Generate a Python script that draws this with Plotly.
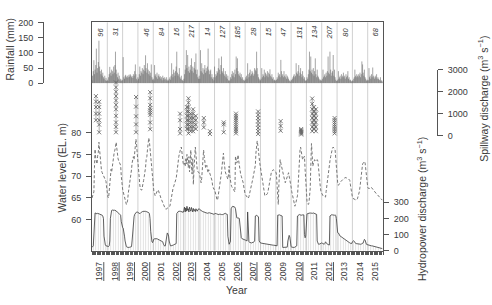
import plotly.graph_objects as go
import pandas as pd

W, H = 492, 305
FONT = "Liberation Sans, Arial, sans-serif"
TXT = "#3a3a3a"
AX = "#555555"

years = list(range(1997, 2016))
# year labels drawn underlined in the original
underlined_years = [1997, 1998, 1999, 2000, 2002, 2003, 2006, 2007, 2010, 2012]

# half-monthly values (1st and 15th of each month), one row per year
rainfall_mm = [
    10, 25, 40, 76, 30, 45, 60, 114, 35, 50, 70, 140, 55, 40, 30, 45, 25, 35, 20, 15, 25, 10, 18, 8,
    12, 8, 20, 30, 54, 35, 25, 45, 40, 30, 55, 35, 60, 104, 45, 30, 20, 35, 15, 25, 10, 15, 8, 12,
    10, 86, 20, 15, 25, 28, 22, 18, 25, 20, 28, 22, 30, 26, 20, 24, 18, 30, 25, 40, 62, 30, 15, 10,
    20, 15, 30, 55, 25, 40, 35, 50, 30, 45, 60, 40, 92, 50, 35, 66, 45, 30, 40, 25, 35, 62, 20, 12,
    15, 10, 60, 25, 30, 20, 35, 15, 25, 30, 20, 24, 15, 20, 10, 25, 18, 12, 20, 15, 10, 20, 12, 8,
    10, 15, 20, 12, 25, 66, 30, 20, 45, 35, 25, 40, 55, 104, 35, 25, 30, 50, 20, 15, 25, 12, 10, 8,
    15, 30, 45, 60, 109, 50, 93, 40, 55, 35, 45, 60, 82, 40, 55, 35, 50, 70, 45, 98, 30, 45, 20, 15,
    25, 15, 109, 40, 66, 35, 50, 30, 45, 60, 35, 50, 40, 55, 114, 45, 30, 40, 45, 20, 30, 15, 20, 10,
    55, 20, 30, 25, 40, 35, 50, 82, 45, 30, 60, 88, 40, 35, 50, 30, 25, 40, 20, 30, 15, 25, 10, 8,
    10, 20, 15, 30, 40, 25, 35, 20, 45, 30, 88, 50, 82, 40, 30, 25, 35, 20, 30, 15, 20, 10, 12, 8,
    12, 20, 25, 15, 66, 30, 20, 35, 45, 25, 30, 40, 35, 25, 30, 50, 45, 40, 104, 50, 30, 20, 15, 10,
    10, 15, 50, 20, 30, 25, 45, 20, 35, 30, 25, 40, 20, 35, 30, 46, 25, 20, 30, 15, 20, 10, 12, 8,
    10, 12, 20, 15, 35, 25, 30, 20, 77, 40, 25, 30, 20, 40, 25, 20, 30, 15, 25, 20, 15, 10, 8, 6,
    12, 10, 15, 20, 25, 30, 20, 25, 66, 35, 30, 40, 60, 25, 35, 50, 30, 20, 40, 25, 15, 20, 10, 8,
    10, 20, 15, 30, 45, 104, 40, 88, 35, 45, 30, 50, 25, 40, 82, 30, 20, 45, 25, 20, 15, 10, 12, 8,
    10, 15, 45, 20, 25, 30, 20, 35, 25, 40, 88, 35, 30, 104, 45, 25, 35, 40, 93, 25, 45, 20, 12, 8,
    8, 12, 40, 15, 20, 25, 15, 30, 20, 25, 35, 20, 25, 15, 30, 20, 25, 40, 15, 20, 10, 12, 8, 6,
    10, 8, 15, 20, 45, 25, 20, 30, 25, 20, 30, 25, 35, 20, 30, 72, 62, 35, 25, 45, 20, 15, 10, 8,
    12, 10, 50, 20, 25, 15, 30, 20, 52, 25, 20, 15, 25, 20, 30, 15, 20, 15, 10, 12, 20, 8, 10, 6,
]

water_level_m = [
    65.0, 65.5, 66.0, 66.4, 72.0, 76.2, 74.0, 73.5, 72.8, 74.6, 75.5, 77.8, 76.0, 73.0, 72.0, 71.3, 70.8, 70.5, 70.2, 70.0, 69.7, 69.3, 68.8, 67.5,
    66.0, 65.2, 65.0, 66.5, 69.0, 71.0, 71.6, 71.0, 72.5, 73.5, 74.5, 75.5, 76.0, 77.0, 77.8, 76.5, 74.6, 74.0, 73.5, 73.0, 73.0, 72.5, 70.0, 68.0,
    67.0, 66.4, 65.8, 65.3, 64.9, 64.2, 63.5, 63.8, 64.5, 66.0, 67.0, 68.0, 69.3, 70.5, 71.5, 73.0, 74.0, 74.5, 73.8, 75.5, 77.0, 78.5, 77.0, 75.0,
    73.0, 71.0, 69.0, 68.0, 67.0, 66.8, 66.8, 67.5, 68.0, 69.0, 70.0, 70.8, 72.0, 73.8, 74.5, 76.0, 77.5, 78.8, 78.0, 76.5, 74.5, 73.0, 70.5, 68.5,
    67.5, 66.5, 66.0, 65.5, 65.8, 66.2, 66.6, 66.8, 66.8, 66.5, 66.0, 65.5, 65.0, 64.6, 64.2, 63.9, 63.5, 63.1, 62.8, 62.5, 62.4, 62.5, 62.7, 62.8,
    62.8, 62.9, 63.1, 63.8, 64.9, 65.6, 66.3, 67.1, 67.6, 68.0, 68.4, 68.6, 69.5, 70.5, 71.5, 73.0, 74.5, 75.3, 75.8, 76.3, 76.7, 75.0, 73.5, 73.0,
    72.5, 73.0, 72.3, 74.0, 72.8, 75.0, 73.5, 72.0, 74.5, 71.0, 73.5, 76.0, 72.5, 70.5, 74.0, 68.1, 72.0, 74.5, 76.7, 75.0, 72.0, 71.5, 71.0, 70.8,
    70.8, 70.2, 69.5, 68.5, 69.5, 71.5, 74.0, 76.0, 74.5, 73.0, 72.0, 71.9, 72.5, 71.5, 70.8, 71.5, 71.0, 70.5, 70.2, 70.0, 69.0, 67.9, 67.3, 67.0,
    67.0, 66.2, 65.3, 64.9, 64.6, 64.5, 65.5, 66.5, 67.1, 68.5, 69.8, 70.8, 72.5, 74.0, 75.3, 73.5, 71.5, 71.0, 70.5, 70.0, 69.6, 69.3, 70.5, 72.3,
    70.0, 68.6, 68.0, 67.6, 67.3, 67.1, 66.8, 66.5, 66.4, 74.6, 74.0, 73.0, 73.5, 74.9, 73.5, 72.0, 70.8, 70.5, 70.0, 69.6, 69.3, 68.5, 67.5, 66.0,
    65.8, 65.6, 65.5, 65.2, 65.0, 64.9, 65.3, 65.8, 66.4, 67.0, 67.8, 68.6, 69.3, 70.0, 70.5, 70.8, 72.5, 75.3, 77.0, 78.1, 77.0, 75.3, 74.0, 73.0,
    72.0, 71.0, 70.0, 69.0, 67.9, 67.0, 66.2, 65.5, 65.5, 65.7, 65.8, 66.0, 66.6, 67.2, 67.9, 69.0, 70.0, 70.8, 71.0, 71.3, 71.5, 71.4, 71.3, 71.2,
    71.0, 70.5, 67.0, 64.2, 63.5, 68.0, 73.0, 73.8, 73.0, 72.3, 71.5, 70.5, 70.0, 69.3, 69.0, 68.5, 69.0, 69.5, 70.0, 70.5, 70.8, 70.0, 69.3, 68.5,
    67.5, 66.5, 65.6, 64.9, 64.2, 63.6, 63.1, 63.5, 64.3, 65.0, 65.5, 67.5, 71.5, 75.3, 76.0, 76.7, 75.5, 74.3, 73.8, 74.0, 74.3, 74.6, 71.5, 68.5,
    66.0, 64.2, 63.8, 63.5, 63.8, 65.0, 67.1, 72.0, 77.5, 75.5, 72.3, 72.8, 73.3, 73.8, 73.6, 73.4, 73.6, 73.8, 73.5, 71.5, 69.3, 68.3, 67.3, 66.4,
    66.0, 65.7, 65.5, 65.4, 65.3, 65.2, 65.2, 66.5, 68.0, 69.2, 70.0, 71.0, 72.5, 73.5, 74.5, 75.3, 76.0, 76.5, 76.7, 76.5, 76.2, 76.0, 74.0, 71.5,
    69.5, 68.5, 67.9, 68.0, 68.3, 68.6, 68.8, 68.9, 69.0, 69.2, 69.4, 69.5, 69.6, 69.7, 69.7, 69.6, 69.6, 69.5, 69.4, 69.2, 69.0, 68.0, 66.5, 65.5,
    65.2, 64.9, 64.8, 64.7, 64.6, 64.5, 64.5, 64.6, 64.8, 65.3, 65.8, 66.4, 67.5, 69.0, 70.8, 72.3, 72.8, 73.0, 73.3, 73.4, 73.0, 71.5, 70.0, 68.5,
    67.5, 67.2, 67.1, 67.2, 67.4, 67.5, 67.4, 67.2, 67.0, 66.8, 66.6, 66.4, 66.2, 66.0, 65.9, 65.8, 65.6, 65.5, 65.3, 65.2, 65.0, 64.9, 64.7, 64.5,
]

hydropower_m3s = [
    25, 24, 30, 120, 232, 234, 232, 230, 228, 232, 230, 228, 226, 228, 225, 224, 220, 215, 200, 90, 45, 35, 30, 28,
    26, 25, 26, 30, 60, 200, 248, 250, 252, 250, 248, 250, 252, 250, 246, 244, 240, 236, 232, 228, 225, 220, 180, 150,
    144, 140, 120, 90, 60, 30, 25, 22, 20, 20, 20, 21, 22, 24, 25, 60, 120, 190, 210, 225, 232, 236, 240, 240,
    238, 236, 232, 230, 234, 238, 240, 242, 244, 245, 246, 245, 244, 243, 242, 240, 238, 236, 230, 200, 120, 70, 55, 50,
    70, 72, 74, 75, 76, 75, 74, 72, 70, 70, 68, 66, 65, 62, 60, 55, 40, 30, 28, 30, 60, 100, 110, 105,
    90, 60, 35, 30, 30, 30, 32, 34, 36, 38, 40, 42, 44, 230, 240, 242, 244, 246, 245, 244, 243, 242, 240, 238,
    250, 270, 240, 265, 245, 275, 250, 260, 240, 270, 255, 245, 268, 250, 240, 262, 248, 255, 242, 260, 250, 245, 255, 258,
    260, 255, 250, 248, 246, 244, 242, 240, 238, 236, 234, 232, 230, 232, 234, 236, 235, 234, 232, 230, 228, 226, 225, 226,
    228, 230, 232, 228, 226, 224, 222, 224, 226, 228, 226, 224, 222, 224, 226, 228, 230, 232, 228, 226, 225, 90, 45, 40,
    50, 55, 260, 270, 274, 275, 274, 272, 270, 260, 205, 204, 203, 200, 202, 200, 150, 95, 80, 75, 72, 70, 70, 68,
    66, 65, 62, 60, 240, 60, 55, 52, 50, 50, 48, 50, 50, 52, 55, 60, 215, 218, 220, 215, 212, 210, 60, 50,
    48, 47, 46, 45, 44, 44, 43, 42, 42, 41, 40, 40, 39, 38, 38, 37, 36, 36, 35, 35, 34, 34, 33, 32,
    32, 31, 30, 220, 222, 224, 222, 220, 218, 216, 215, 20, 20, 20, 19, 19, 20, 20, 22, 60, 90, 95, 85, 40,
    25, 22, 20, 20, 20, 20, 22, 24, 26, 30, 215, 220, 222, 224, 222, 220, 218, 220, 222, 224, 222, 100, 80, 90,
    200, 228, 230, 232, 234, 235, 234, 233, 232, 230, 232, 234, 233, 232, 230, 228, 225, 60, 45, 40, 40, 42, 45, 50,
    48, 46, 44, 42, 40, 45, 55, 50, 42, 40, 38, 36, 35, 215, 220, 222, 224, 222, 220, 218, 220, 222, 218, 200,
    115, 112, 110, 100, 95, 90, 88, 85, 82, 80, 78, 75, 72, 70, 66, 62, 58, 55, 52, 50, 48, 46, 45, 44,
    55, 60, 62, 58, 50, 46, 44, 43, 42, 42, 41, 40, 40, 40, 41, 42, 44, 48, 60, 70, 65, 50, 40, 38,
    36, 35, 34, 33, 32, 31, 30, 30, 29, 28, 28, 27, 26, 26, 25, 24, 23, 22, 20, 18, 16, 15, 14, 13,
]

# spillway release events: date and the discharges recorded on it
spill_dates = ["1997-04-05", "1997-06-21", "1998-07-27", "1999-11-17", "2000-10-19",
               "2002-10-02", "2003-03-14", "2003-04-20", "2003-06-14", "2003-08-08",
               "2003-10-12", "2004-04-20", "2004-09-13", "2005-08-08", "2006-05-27",
               "2007-11-06", "2009-04-27", "2010-08-29", "2011-05-19", "2011-07-02",
               "2011-08-15", "2012-11-03"]
spill_values = [
    [1800, 1550, 1300, 1000, 700],
    [1540, 1300, 1000, 700, 500, 150],
    [2420, 2200, 2000, 1800, 1600, 1400, 1200, 900, 600, 400, 150],
    [1760, 1320, 880, 510, 150],
    [1980, 1700, 1400, 1250, 1150, 1050, 950, 600, 290],
    [1000, 700, 300, 100],
    [1300, 1100, 900, 700, 500, 300],
    [1700, 1500, 1300, 1100, 900, 700, 500, 300, 100],
    [1000, 800, 600, 400, 200],
    [1200, 1000, 800, 600, 400, 200],
    [900, 700, 500, 300],
    [800, 600, 370],
    [200, 70],
    [600, 510, 150],
    [1000, 900, 800, 700, 600, 500, 400, 300, 200, 100],
    [1100, 950, 800, 650, 500, 350, 200, 70],
    [660, 440, 220],
    [300, 250, 200, 150, 100, 50],
    [1690, 1450, 1200, 1000, 800, 600, 400, 200],
    [1300, 1100, 900, 700, 500, 300],
    [1200, 1000, 800, 600, 400, 200],
    [800, 700, 600, 500, 400, 300, 200, 100],
]

# numbers printed at the top of each year column
note_years = [1997, 1998, 2000, 2001, 2002, 2003, 2004, 2005, 2006, 2007, 2008,
              2009, 2010, 2011, 2012, 2013, 2015]
note_values = [96, 31, 46, 84, 16, 217, 14, 127, 185, 28, 15, 47, 131, 134, 207, 80, 68]

dates = pd.date_range("1997-01-01", "2015-12-31", freq="SMS")
for name, arr in [("rain", rainfall_mm), ("wl", water_level_m), ("hydro", hydropower_m3s)]:
    if len(arr) != len(dates):
        raise ValueError(f"{name} has {len(arr)} values, expected {len(dates)}")

# ---- pixel layout helpers ----
def px_x(p):
    return p / W

def px_y(p):
    return 1 - p / H

X0, X1 = 92, 383         # plot box left/right
Y_TOP, Y_BOT = 18, 254   # plot box top/bottom
RAIN_BASE = 81

wl_per_px = 1 / 4.5
wl_lo = 60 - (Y_BOT - 222) * wl_per_px
wl_hi = 80 + (132 - Y_TOP) * wl_per_px
hy_hi = (Y_BOT - Y_TOP) * 6.0

fig = go.Figure()

# rainfall drawn as thin stems (one per record)
rx, ry = [], []
for d, v in zip(dates, rainfall_mm):
    rx += [d, d, None]
    ry += [0, v, None]
fig.add_trace(go.Scatter(
    x=rx, y=ry, xaxis="x", yaxis="y2", mode="lines",
    line=dict(color="#5a5a5a", width=0.55), showlegend=False,
))

fig.add_trace(go.Scatter(
    x=dates, y=water_level_m, xaxis="x", yaxis="y", mode="lines",
    line=dict(color="#777777", width=1, dash="3px,2px"), showlegend=False,
))

fig.add_trace(go.Scatter(
    x=dates, y=hydropower_m3s, xaxis="x", yaxis="y3", mode="lines",
    line=dict(color="#3a3a3a", width=0.8),
    fill="tozeroy", fillcolor="rgba(255,255,255,0)",
    fillpattern=dict(shape="|", fgcolor="#b0b0b0", bgcolor="rgba(255,255,255,0)",
                     size=2.5, solidity=0.3),
    showlegend=False,
))

sx, sy = [], []
for d, vals in zip(spill_dates, spill_values):
    for v in vals:
        sx.append(d)
        sy.append(v)
    sx.append(None)
    sy.append(None)
fig.add_trace(go.Scatter(
    x=sx, y=sy, xaxis="x", yaxis="y4", mode="lines+markers",
    line=dict(color="#8a8a8a", width=0.7),
    marker=dict(symbol="x-thin", size=4, line=dict(color="#606060", width=0.8)),
    cliponaxis=False, showlegend=False,
))

tickfont = dict(family=FONT, size=9, color=TXT)

common_y = dict(ticks="outside", ticklen=5, tickwidth=0.8, tickcolor=AX,
                showline=True, linecolor=AX, linewidth=1,
                showgrid=False, zeroline=False, tickfont=tickfont,
                tickmode="array", ticklabelstandoff=3)

year_text = [
    f'<span style="text-decoration:underline">{y}</span>' if y in underlined_years else str(y)
    for y in years
]

fig.update_layout(
    width=W, height=H, margin=dict(l=0, r=0, t=0, b=0),
    paper_bgcolor="white", plot_bgcolor="rgba(0,0,0,0)",
    font=dict(family=FONT, color=TXT),
    xaxis=dict(
        type="date", domain=[px_x(X0), px_x(X1)],
        range=["1997-01-01", "2016-01-01"], anchor="y",
        showline=True, linecolor=AX, linewidth=1, mirror=True,
        showgrid=False, zeroline=False,
        tickmode="array",
        tickvals=[f"{y}-07-02" for y in years],
        ticktext=year_text,
        tickangle=-90, ticks="", ticklabelstandoff=7,
        tickfont=dict(family=FONT, size=8.5, color=TXT),
        minor=dict(ticks="outside", ticklen=3, tickwidth=0.8, tickcolor=AX,
                   dtick="M1", tick0="1997-01-01", showgrid=False),
    ),
    yaxis=dict(domain=[px_y(Y_BOT), px_y(Y_TOP)], range=[wl_lo, wl_hi], anchor="x",
               tickvals=[60, 65, 70, 75, 80], **common_y),
    yaxis2=dict(domain=[px_y(RAIN_BASE), px_y(Y_TOP)], range=[0, 200], anchor="free",
                position=px_x(43), side="left",
                tickvals=[0, 50, 100, 150, 200], **common_y),
    yaxis3=dict(overlaying="y", side="right", anchor="x", range=[0, hy_hi],
                tickvals=[0, 100, 200, 300], **common_y),
    yaxis4=dict(domain=[px_y(135), px_y(67)], range=[0, 3000], anchor="free",
                position=px_x(437), side="right",
                tickvals=[0, 1000, 2000, 3000], **common_y),
)

# year boundaries
for y in years[1:]:
    fig.add_vline(x=f"{y}-01-01", line=dict(color="#d0d0d0", width=1), layer="below")

# numbers at the top of the year columns
for y, v in zip(note_years, note_values):
    fig.add_annotation(
        x=f"{y}-07-02", xref="x", y=px_y(28), yref="paper",
        xanchor="center", yanchor="middle",
        text=f"<i>{v}</i>", showarrow=False, textangle=-90,
        font=dict(family=FONT, size=7.5, color=TXT),
    )

titles = [
    ("Rainfall (mm)", 10, 46),
    ("Water level (EL. m)", 62, 168),
    ("Hydropower discharge (m<sup>3</sup> s<sup>−1</sup>)", 421, 211),
    ("Spillway discharge (m<sup>3</sup> s<sup>−1</sup>)", 483, 97),
]
for text, xp, yp in titles:
    fig.add_annotation(
        x=px_x(xp), y=px_y(yp), xref="paper", yref="paper", text=text,
        xanchor="center", yanchor="middle",
        showarrow=False, textangle=-90, font=dict(family=FONT, size=10.5, color=TXT),
    )
fig.add_annotation(
    x=px_x(237), y=px_y(295), xref="paper", yref="paper", text="Year",
    xanchor="center", yanchor="middle",
    showarrow=False, font=dict(family=FONT, size=10.5, color=TXT),
)

fig.write_html("out.html")
